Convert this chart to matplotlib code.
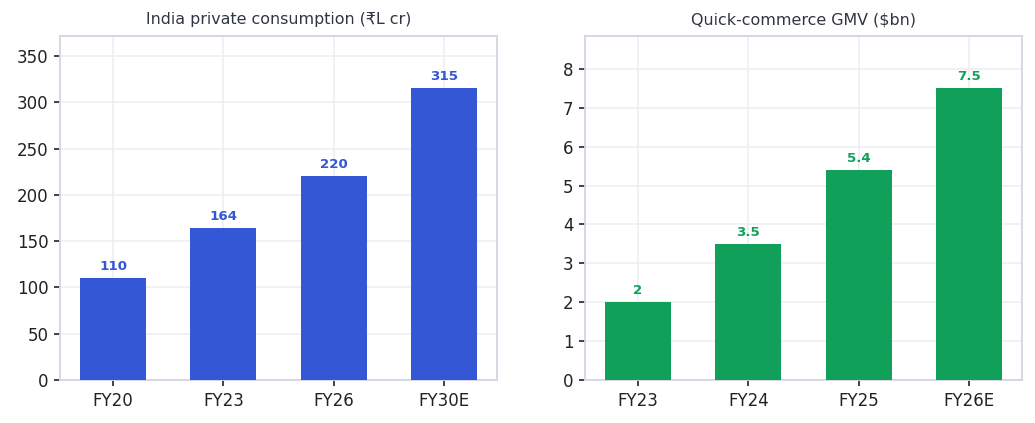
import matplotlib
matplotlib.use("Agg")
import matplotlib.pyplot as plt

plt.rcParams["font.family"] = ["DejaVu Sans"]

cons_labels = ["FY20", "FY23", "FY26", "FY30E"]
cons_values = [110, 164, 220, 315]
qc_labels = ["FY23", "FY24", "FY25", "FY26E"]
qc_values = [2, 3.5, 5.4, 7.5]

BLUE = "#3457d5"
GREEN = "#11a05a"

fig, axes = plt.subplots(1, 2, figsize=(8.625, 3.525), dpi=120)
fig.subplots_adjust(left=0.058, right=0.9874, top=0.915, bottom=0.1017, wspace=0.201)


def draw(ax, labels, values, color, title):
    bars = ax.bar(labels, values, width=0.6, color=color, zorder=3)
    ax.set_ylim(0, max(values) * 1.18)
    ax.set_title(title, fontsize=9.5, color="#2f3542", pad=7)
    ax.grid(True, color="#ededf3", linewidth=0.9, zorder=0)
    for s in ax.spines.values():
        s.set_color("#d3d6e2")
        s.set_linewidth(1.1)
    ax.tick_params(labelsize=10, colors="#222222", length=3.5, width=1)
    for b, v in zip(bars, values):
        ax.annotate(f"{v:g}", (b.get_x() + b.get_width() / 2, b.get_height()),
                    xytext=(0, 3), textcoords="offset points", ha="center", va="bottom",
                    fontsize=8, fontweight="bold", color=color)


draw(axes[0], cons_labels, cons_values, BLUE, "India private consumption (₹L cr)")
draw(axes[1], qc_labels, qc_values, GREEN, "Quick-commerce GMV ($bn)")

fig.savefig("out.png", dpi=120)
